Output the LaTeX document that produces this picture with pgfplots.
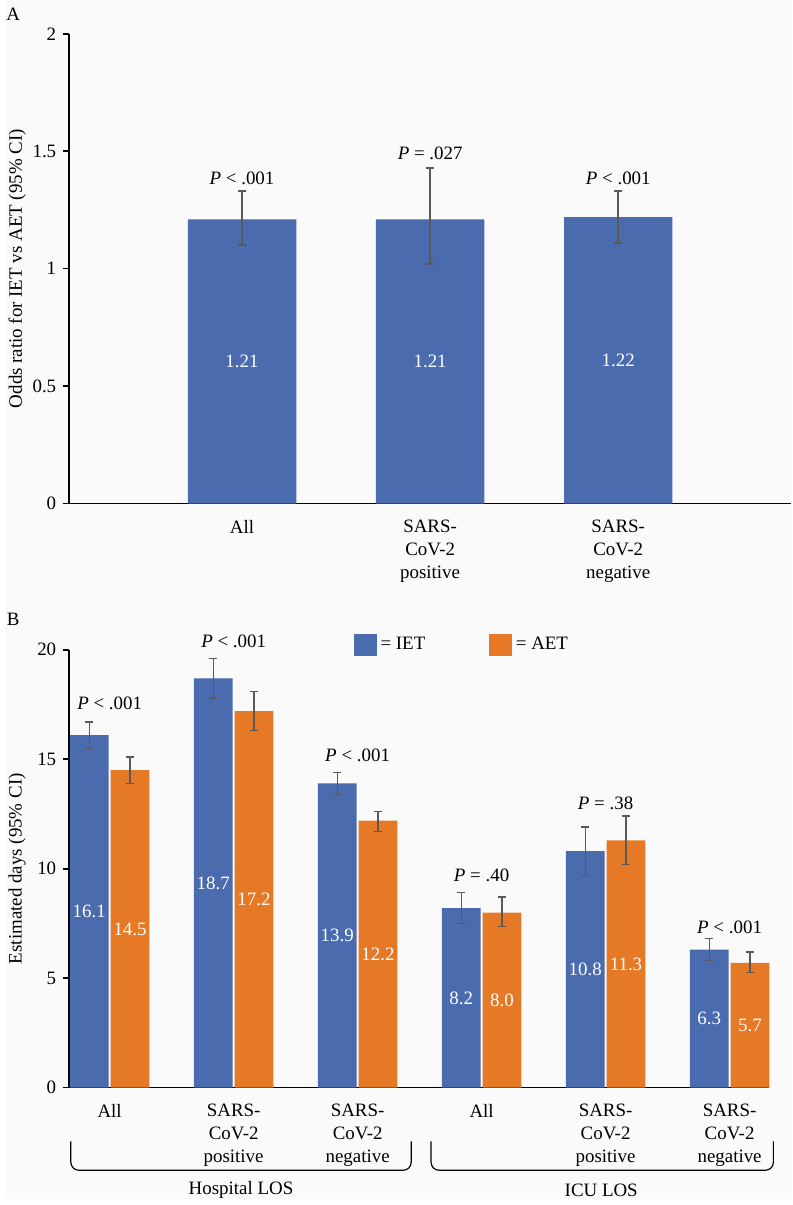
\documentclass[border=0pt]{standalone}
\usepackage{fontspec}
\setmainfont{Liberation Serif}
\usepackage{pgfplots}
\usepackage{pgfplotstable}
\pgfplotsset{compat=1.18}

\definecolor{ietblue}{RGB}{75,107,175}
\definecolor{aetorange}{RGB}{230,121,38}
\definecolor{errgray}{RGB}{89,89,89}
\definecolor{paper}{RGB}{250,250,250}

% A: odds ratio for IET vs AET, with 95% CI
\pgfplotstableread{
x y    ep   em   lab
1 1.21 0.12 0.11 1.21
2 1.21 0.22 0.19 1.21
3 1.22 0.11 0.11 1.22
}\oddsratio

% B: estimated days; 1-3 hospital LOS, 4-6 ICU LOS
\pgfplotstableread{
x y    ep   em   lab
1 16.1 0.6  0.6  16.1
2 18.7 0.9  0.9  18.7
3 13.9 0.5  0.5  13.9
4 8.2  0.7  0.7  8.2
5 10.8 1.1  1.1  10.8
6 6.3  0.5  0.5  6.3
}\ietdays

\pgfplotstableread{
x y    ep   em   lab
1 14.5 0.6  0.6  14.5
2 17.2 0.9  0.9  17.2
3 12.2 0.4  0.5  12.2
4 8.0  0.7  0.65 8.0
5 11.3 1.1  1.1  11.3
6 5.7  0.5  0.45 5.7
}\aetdays

\pgfplotsset{
  panel/.style={
    scale only axis,
    clip=false,
    axis lines*=left,
    axis line style={-, line width=0.8pt, black},
    tick align=outside,
    major tick length=3pt,
    major y tick style={line width=0.8pt, black},
    major x tick style={draw=none},
    ymin=0,
    xtick=data,
    xticklabel style={align=center, yshift=-2pt},
    /pgf/number format/assume math mode=true,
    ylabel style={anchor=center},
    nodes near coords,
    point meta=explicit symbolic,
    visualization depends on={rawy \as \rawy},
    every node near coord/.append style={anchor=center, text=white,
      shift={(axis direction cs:0,-\rawy/2)}},
  },
  errs/.style={
    /pgfplots/error bars/y dir=both,
    /pgfplots/error bars/y explicit,
    /pgfplots/error bars/error bar style={draw=errgray, line width=#1},
    /pgfplots/error bars/error mark options={draw=errgray, rotate=90, mark size=2pt, line width=#1},
  },
}

\begin{document}
\fontsize{9.5}{11.5}\selectfont
\begin{tikzpicture}
\fill[paper] (-32pt,253pt) rectangle (363.5pt,-349.5pt);

\begin{axis}[panel,
  at={(0pt,0pt)},
  width=363pt, height=236pt,
  ybar, bar width=54.5pt,
  xmin=0.0794, xmax=3.92, ymax=2,
  ytick={0,0.5,1,1.5,2},
  xticklabels={All,{SARS-\\CoV-2\\positive},{SARS-\\CoV-2\\negative}},
  ylabel={Odds ratio for IET vs AET (95\% CI)},
  ylabel style={at={(axis description cs:-0.0716,0.5)}},
]
\addplot[fill=ietblue, draw=none, errs=1pt]
  table[x=x, y=y, y error plus=ep, y error minus=em, meta=lab] {\oddsratio};
\node at (axis cs:1,1.386) {\textit{P} < .001};
\node at (axis cs:2,1.49) {\textit{P} = .027};
\node at (axis cs:3,1.386) {\textit{P} < .001};
\end{axis}

\begin{axis}[panel,
  at={(0pt,-293.5pt)},
  width=352pt, height=220pt,
  ybar=1pt, bar width=19.5pt,
  xmin=0.671, xmax=6.321, ymax=20,
  ytick={0,5,10,15,20},
  xticklabels={All,{SARS-\\CoV-2\\positive},{SARS-\\CoV-2\\negative},All,{SARS-\\CoV-2\\positive},{SARS-\\CoV-2\\negative}},
  ylabel={Estimated days (95\% CI)},
  ylabel style={at={(axis description cs:-0.0739,0.5)}},
  legend columns=2,
  legend style={at={(axis description cs:0.406,1.011)}, anchor=west,
    draw=none, fill=none, inner sep=0pt,
    /tikz/every even column/.append style={column sep=30pt}},
]
\addplot[fill=ietblue, draw=none, errs=0.7pt,
  legend image code/.code={\fill[ietblue] (0pt,-5.75pt) rectangle (11.5pt,5.75pt);}]
  table[x=x, y=y, y error plus=ep, y error minus=em, meta=lab] {\ietdays};
\addlegendentry{= IET}
\addplot[fill=aetorange, draw=none, errs=0.7pt,
  legend image code/.code={\fill[aetorange] (0pt,-5.75pt) rectangle (11.5pt,5.75pt);}]
  table[x=x, y=y, y error plus=ep, y error minus=em, meta=lab] {\aetdays};
\addlegendentry{= AET}
\node at (axis cs:1,17.55) {\textit{P} < .001};
\node at (axis cs:2,20.4) {\textit{P} < .001};
\node at (axis cs:3,15.2) {\textit{P} < .001};
\node at (axis cs:4,9.7) {\textit{P} = .40};
\node at (axis cs:5,13.0) {\textit{P} = .38};
\node at (axis cs:6,7.3) {\textit{P} < .001};
\end{axis}

% group brackets under panel B
\draw[line width=0.6pt, rounded corners=4pt]
  (1pt,-320.5pt) -- (1pt,-335pt) -- (172pt,-335pt) -- (172pt,-320.5pt);
\draw[line width=0.6pt, rounded corners=4pt]
  (182pt,-320.5pt) -- (182pt,-335pt) -- (354pt,-335pt) -- (354pt,-320.5pt);
\node at (86.5pt,-345pt) {Hospital LOS};
\node at (267.5pt,-345pt) {ICU LOS};

% panel letters
\node at (-28pt,246pt) {A};
\node at (-28pt,-58pt) {B};
\end{tikzpicture}
\end{document}
